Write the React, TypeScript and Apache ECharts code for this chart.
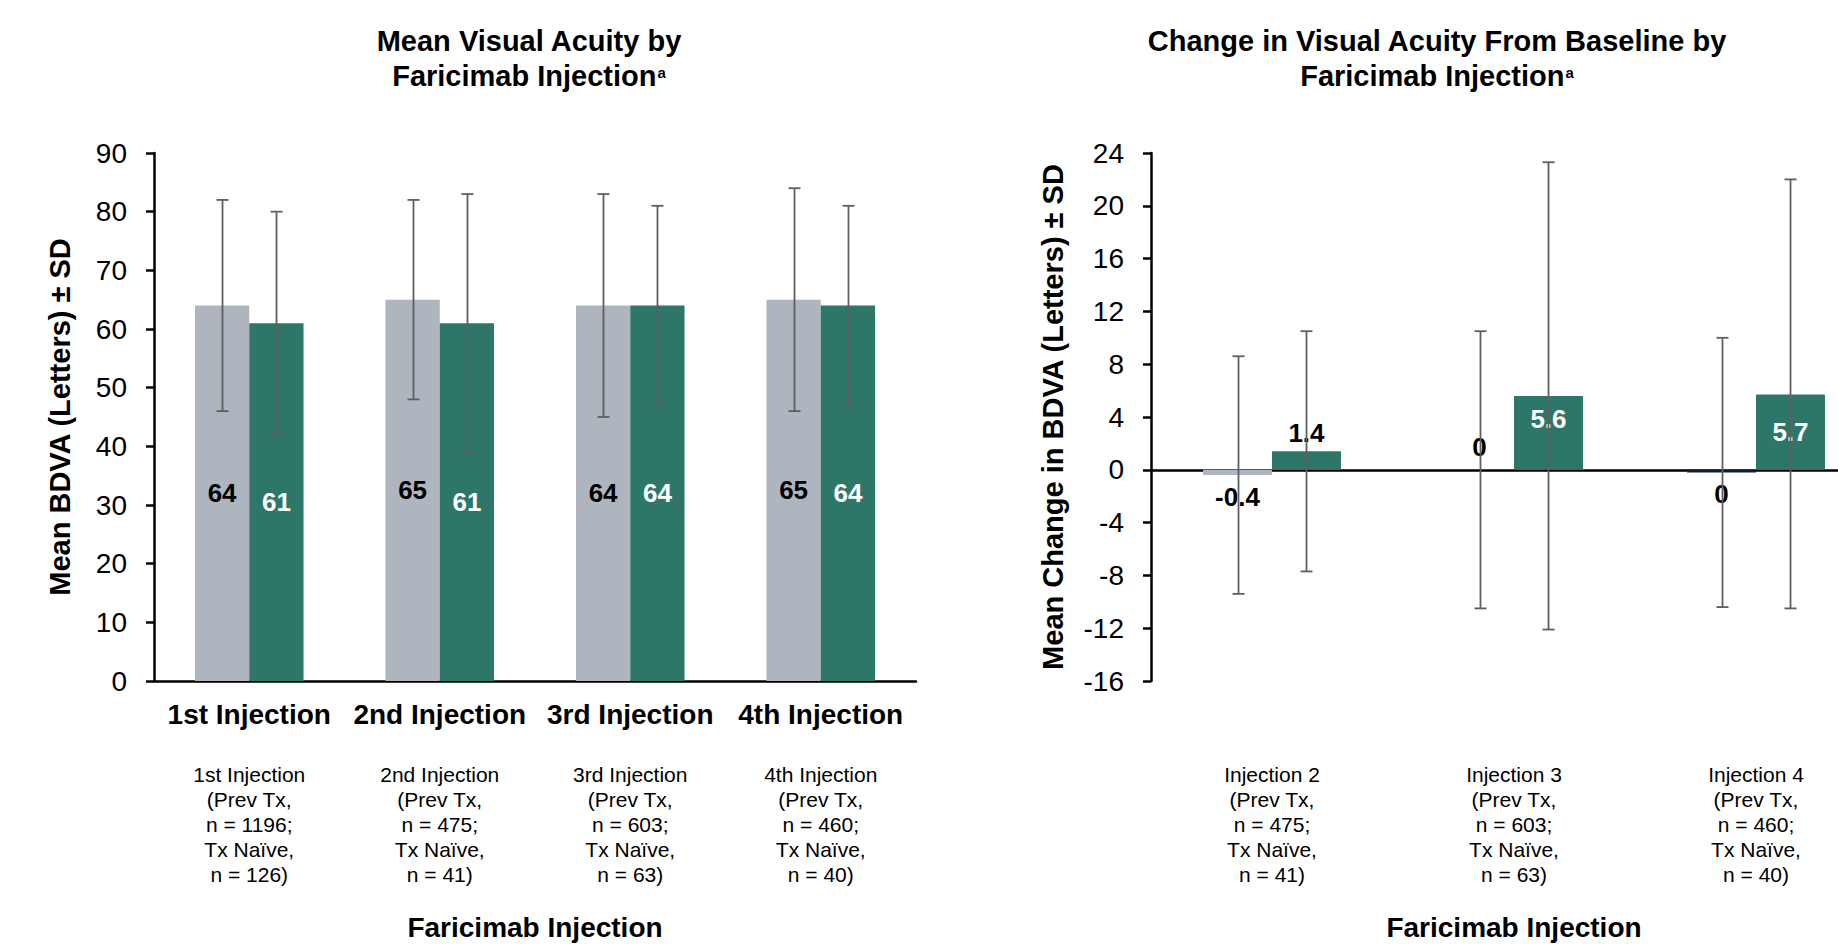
import React, { useEffect, useRef } from "react";
import * as echarts from "echarts";

// ---------- Data ----------
const categoriesLeft = ["1st Injection", "2nd Injection", "3rd Injection", "4th Injection"];
const detailLabelsLeft = [
  "1st Injection\n(Prev Tx,\nn = 1196;\nTx Naïve,\nn = 126)",
  "2nd Injection\n(Prev Tx,\nn = 475;\nTx Naïve,\nn = 41)",
  "3rd Injection\n(Prev Tx,\nn = 603;\nTx Naïve,\nn = 63)",
  "4th Injection\n(Prev Tx,\nn = 460;\nTx Naïve,\nn = 40)",
];
const prevMeanLeft = [64, 65, 64, 65];
const prevUpperLeft = [82, 82, 83, 84];
const prevLowerLeft = [46, 48, 45, 46];
const naiveMeanLeft = [61, 61, 64, 64];
const naiveUpperLeft = [80, 83, 81, 81];
const naiveLowerLeft = [42, 39, 47, 47];
const leftTicks = { min: 0, max: 90, interval: 10 };

const categoriesRight = ["Injection 2", "Injection 3", "Injection 4"];
const detailLabelsRight = [
  "Injection 2\n(Prev Tx,\nn = 475;\nTx Naïve,\nn = 41)",
  "Injection 3\n(Prev Tx,\nn = 603;\nTx Naïve,\nn = 63)",
  "Injection 4\n(Prev Tx,\nn = 460;\nTx Naïve,\nn = 40)",
];
const prevMeanRight = [-0.4, 0, -0.2];
const prevLabelRight = ["-0.4", "0", "0"];
const prevUpperRight = [8.6, 10.5, 10.0];
const prevLowerRight = [-9.4, -10.5, -10.4];
const naiveMeanRight = [1.4, 5.6, 5.7];
const naiveLabelRight = ["1.4", "5.6", "5.7"];
const naiveUpperRight = [10.5, 23.3, 22.0];
const naiveLowerRight = [-7.7, -12.1, -10.5];
const rightTicks = { min: -16, max: 24, interval: 4 };

// ---------- Styles ----------
const FONT = '"Liberation Sans", Arial, Helvetica, sans-serif';
const GRAY = "#AEB5BE";
const GREEN = "#2E7768";
const NAVY = "#0f1f33";
const ERR = "#5f5f5f";
const CAT_GAP = 0.43;

function renderError(params: any, api: any) {
  const cat = api.value(0);
  const lo = api.value(1);
  const hi = api.value(2);
  const slot = api.value(3);
  const band = api.size([1, 0])[0];
  const barW = (band * (1 - CAT_GAP)) / 2;
  const dx = ((slot === 0 ? -1 : 1) * barW) / 2;
  const pHi = api.coord([cat, hi]);
  const pLo = api.coord([cat, lo]);
  const x = Math.round(pHi[0] + dx) + 0.5;
  const cap = 6;
  const style = { stroke: ERR, lineWidth: 1.8, fill: "none" };
  return {
    type: "group",
    children: [
      { type: "line", shape: { x1: x, y1: pHi[1], x2: x, y2: pLo[1] }, style },
      { type: "line", shape: { x1: x - cap, y1: pHi[1], x2: x + cap, y2: pHi[1] }, style },
      { type: "line", shape: { x1: x - cap, y1: pLo[1], x2: x + cap, y2: pLo[1] }, style },
    ],
  };
}

function errData(lower: number[], upper: number[], slot: number) {
  return lower.map((lo, i) => [i, lo, upper[i], slot]);
}

const titleRich = {
  sup: {
    fontSize: 15,
    fontWeight: "bold",
    fontFamily: FONT,
    fill: "#000",
    verticalAlign: "top",
    lineHeight: 15,
    padding: [7, 0, 0, 1],
  },
};

export default function App() {
  const ref = useRef<HTMLDivElement>(null);

  useEffect(() => {
    document.body.style.margin = "0";
    const chart = echarts.init(ref.current!, undefined, { renderer: "svg" });

    const axisLineStyle = { color: "#000", width: 2.5 };
    const yTickLabel = { color: "#000", fontSize: 28, margin: 27, fontFamily: FONT };
    const yName = { color: "#000", fontSize: 29, fontWeight: "bold", fontFamily: FONT };
    const detailLabel = { color: "#000", fontSize: 21, lineHeight: 25, interval: 0, fontFamily: FONT };
    const xName = { color: "#000", fontSize: 28, fontWeight: "bold", fontFamily: FONT };
    const dataLabelBase = { show: true, fontSize: 26, fontWeight: "bold", fontFamily: FONT };

    const option: any = {
      animation: false,
      textStyle: { fontFamily: FONT },
      graphic: [
        {
          type: "text",
          x: 529,
          y: 23,
          style: {
            text: "Mean Visual Acuity by\nFaricimab Injection{sup|a}",
            fontSize: 29,
            fontWeight: "bold",
            fontFamily: FONT,
            fill: "#000",
            align: "center",
            verticalAlign: "top",
            lineHeight: 35,
            rich: titleRich,
          },
        },
        {
          type: "text",
          x: 1437,
          y: 23,
          style: {
            text: "Change in Visual Acuity From Baseline by\nFaricimab Injection{sup|a}",
            fontSize: 29,
            fontWeight: "bold",
            fontFamily: FONT,
            fill: "#000",
            align: "center",
            verticalAlign: "top",
            lineHeight: 35,
            rich: titleRich,
          },
        },
      ],
      grid: [
        { left: 154, top: 153, width: 762, height: 528, containLabel: false, outerBoundsMode: "none" },
        { left: 1151, top: 153, width: 726, height: 528, containLabel: false, outerBoundsMode: "none" },
      ],
      xAxis: [
        {
          type: "category",
          gridIndex: 0,
          data: categoriesLeft,
          axisLine: { lineStyle: axisLineStyle },
          axisTick: { show: false },
          axisLabel: { color: "#000", fontSize: 28, fontWeight: "bold", margin: 19, interval: 0, fontFamily: FONT },
        },
        {
          type: "category",
          gridIndex: 0,
          data: detailLabelsLeft,
          position: "bottom",
          axisLine: { show: false, onZero: false },
          axisTick: { show: false },
          axisLabel: { ...detailLabel, margin: 81 },
          name: "Faricimab Injection",
          nameLocation: "middle",
          nameGap: 232,
          nameTextStyle: xName,
        },
        {
          type: "category",
          gridIndex: 1,
          data: categoriesRight,
          axisLine: { onZero: true, lineStyle: axisLineStyle },
          axisTick: { show: false },
          axisLabel: { show: false },
        },
        {
          type: "category",
          gridIndex: 1,
          data: detailLabelsRight,
          position: "bottom",
          axisLine: { show: false, onZero: false },
          axisTick: { show: false },
          axisLabel: { ...detailLabel, margin: 81 },
          name: "Faricimab Injection",
          nameLocation: "middle",
          nameGap: 232,
          nameTextStyle: xName,
        },
      ],
      yAxis: [
        {
          type: "value",
          gridIndex: 0,
          ...leftTicks,
          axisLine: { show: true, lineStyle: axisLineStyle },
          axisTick: { show: true, length: 8, lineStyle: axisLineStyle },
          axisLabel: yTickLabel,
          splitLine: { show: false },
          name: "Mean BDVA (Letters) ± SD",
          nameLocation: "middle",
          nameGap: 80,
          nameTextStyle: yName,
        },
        {
          type: "value",
          gridIndex: 1,
          ...rightTicks,
          axisLine: { show: true, onZero: false, lineStyle: axisLineStyle },
          axisTick: { show: true, length: 8, lineStyle: axisLineStyle },
          axisLabel: yTickLabel,
          splitLine: { show: false },
          name: "Mean Change in BDVA (Letters) ± SD",
          nameLocation: "middle",
          nameGap: 84,
          nameTextStyle: yName,
        },
      ],
      series: [
        {
          name: "Prev Tx",
          type: "bar",
          xAxisIndex: 0,
          yAxisIndex: 0,
          data: prevMeanLeft,
          itemStyle: { color: GRAY },
          barGap: "0%",
          barCategoryGap: "43%",
          label: { ...dataLabelBase, position: "inside", color: "#000" },
        },
        {
          name: "Tx Naïve",
          type: "bar",
          xAxisIndex: 0,
          yAxisIndex: 0,
          data: naiveMeanLeft,
          itemStyle: { color: GREEN },
          barGap: "0%",
          barCategoryGap: "43%",
          label: { ...dataLabelBase, position: "inside", color: "#fff" },
        },
        {
          type: "custom",
          xAxisIndex: 0,
          yAxisIndex: 0,
          z: 3,
          renderItem: renderError,
          encode: { x: 0, y: [1, 2] },
          data: [...errData(prevLowerLeft, prevUpperLeft, 0), ...errData(naiveLowerLeft, naiveUpperLeft, 1)],
        },
        {
          name: "Prev Tx",
          type: "bar",
          xAxisIndex: 2,
          yAxisIndex: 1,
          barGap: "0%",
          barCategoryGap: "43%",
          itemStyle: { color: GRAY },
          data: prevMeanRight.map((v, i) => ({
            value: v,
            itemStyle: i === 2 ? { color: NAVY } : undefined,
            label: {
              ...dataLabelBase,
              color: "#000",
              position: v < 0 ? "bottom" : "top",
              distance: v < 0 ? 9 : 10,
              formatter: () => prevLabelRight[i],
            },
          })),
        },
        {
          name: "Tx Naïve",
          type: "bar",
          xAxisIndex: 2,
          yAxisIndex: 1,
          barGap: "0%",
          barCategoryGap: "43%",
          itemStyle: { color: GREEN },
          data: naiveMeanRight.map((v, i) => ({
            value: v,
            label: {
              ...dataLabelBase,
              color: i === 0 ? "#000" : "#fff",
              position: i === 0 ? "top" : i === 1 ? "insideTop" : "inside",
              distance: i === 0 ? 5 : 10,
              formatter: () => naiveLabelRight[i],
            },
          })),
        },
        {
          type: "custom",
          xAxisIndex: 2,
          yAxisIndex: 1,
          z: 3,
          renderItem: renderError,
          encode: { x: 0, y: [1, 2] },
          data: [...errData(prevLowerRight, prevUpperRight, 0), ...errData(naiveLowerRight, naiveUpperRight, 1)],
        },
      ],
    };

    chart.setOption(option);
    return () => chart.dispose();
  }, []);

  return (
    <div
      ref={ref}
      style={{ position: "absolute", left: 0, top: 0, width: 1838, height: 944, background: "#fff" }}
    />
  );
}
